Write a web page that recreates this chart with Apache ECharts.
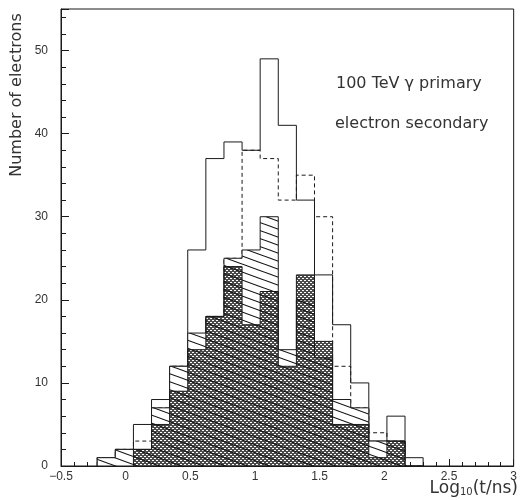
<!DOCTYPE html>
<html><head><meta charset="utf-8">
<script src="https://cdn.jsdelivr.net/npm/echarts/dist/echarts.min.js"></script>
<style>html,body{margin:0;padding:0;background:#fff}#c{width:520px;height:500px}</style>
</head><body><div id="c"></div>
<script>
// bin edges in log10(t/ns)
const binEdges = [-0.22,-0.08,0.06,0.20,0.34,0.48,0.62,0.76,0.90,1.04,1.18,1.32,1.46,1.60,1.74,1.88,2.02,2.16,2.30];
// solid outline histogram
const solidCounts   = [1,2,5,8,12,26,37,39,38,49,41,32,23,17,10,3,6,1];
// dashed outline histogram
const dashedCounts  = [1,2,3,7,12,15,18,25,38,37,32,35,30,12,7,4,3,0];
// single-hatched histogram
const hatchedCounts = [1,2,2,7,12,16,18,25,26,30,14,20,13,8,7,3,3,0];
// cross-hatched histogram
const crossCounts   = [0,0,2,5,9,14,18,24,17,21,12,23,15,5,5,1,3,0];
const xTickLabels = ['\u22120.5','0','0.5','1','1.5','2','2.5','3'];
const xTickValues = [-0.5,0,0.5,1,1.5,2,2.5,3];
const yTickValues = [0,10,20,30,40,50];

function steps(vals){
  const d=[[binEdges[0],0]];
  vals.forEach((v,i)=>d.push([binEdges[i],v]));
  d.push([binEdges[vals.length],vals[vals.length-1]]);
  d.push([binEdges[vals.length],0]);
  return d;
}
// patterns
function diagPattern(){
  const c=document.createElement('canvas'); c.width=22; c.height=8;
  const g=c.getContext('2d'); g.strokeStyle='#111'; g.lineWidth=1.1;
  g.beginPath(); g.moveTo(-22,-8); g.lineTo(44,16); g.moveTo(-22,0); g.lineTo(22,16); g.moveTo(0,-8); g.lineTo(44,8); g.stroke();
  return c;
}
function crossPattern(){
  const c=document.createElement('canvas'); c.width=4; c.height=4;
  const g=c.getContext('2d'); g.fillStyle='#4a4a4a'; g.fillRect(0,0,4,4);
  g.fillStyle='#fff';
  [[0,0],[1,0],[2,2],[3,2]].forEach(p=>g.fillRect(p[0],p[1],1,1));
  return c;
}
const lineCol='#1a1a1a';
const chart=echarts.init(document.getElementById('c'),null,{renderer:'canvas'});
chart.setOption({
  animation:false,
  backgroundColor:'#fff',
  grid:{left:61,right:1,top:9,bottom:34,show:true,borderColor:lineCol,borderWidth:1,backgroundColor:'transparent'},
  xAxis:{type:'value',min:-0.5,max:3,interval:0.5,
    axisLine:{show:true,onZero:false,lineStyle:{color:lineCol,width:1}},
    axisTick:{show:true,inside:true,length:7,lineStyle:{color:lineCol}},
    minorTick:{show:true,splitNumber:5,length:4,lineStyle:{color:lineCol}},
    splitLine:{show:false},
    axisLabel:{margin:5,fontFamily:'Liberation Sans',fontSize:12,color:'#333',
      formatter:v=>{const i=xTickValues.findIndex(t=>Math.abs(t-v)<1e-9);return i>=0?xTickLabels[i]:'';}}},
  yAxis:{type:'value',min:0,max:55,interval:10,
    axisLine:{show:true,onZero:false,lineStyle:{color:lineCol,width:1}},
    axisTick:{show:true,inside:true,length:8,lineStyle:{color:lineCol}},
    minorTick:{show:true,splitNumber:5,length:5,lineStyle:{color:lineCol}},
    splitLine:{show:false},
    axisLabel:{margin:13,fontFamily:'Liberation Sans',fontSize:12,color:'#333',
      formatter:v=>yTickValues.indexOf(v)>=0?String(v):''}},
  series:[
    {type:'line',step:'end',symbol:'none',z:2,data:steps(solidCounts),lineStyle:{color:lineCol,width:1}},
    {type:'line',step:'end',symbol:'none',z:2,data:steps(dashedCounts),lineStyle:{color:lineCol,width:1,type:[4,3]}},
    {type:'line',step:'end',symbol:'none',z:3,data:steps(hatchedCounts),lineStyle:{width:0,opacity:0},areaStyle:{color:'#fff',opacity:1}},
    {type:'line',step:'end',symbol:'none',z:4,data:steps(crossCounts),lineStyle:{color:lineCol,width:1},areaStyle:{color:{image:crossPattern(),repeat:'repeat'},opacity:1}},
    {type:'line',step:'end',symbol:'none',z:5,data:steps(hatchedCounts),lineStyle:{color:lineCol,width:1},areaStyle:{color:{image:diagPattern(),repeat:'repeat'},opacity:1}}
  ],
  graphic:[
    {type:'text',left:336,top:76,z:10,style:{text:'100 TeV \u03b3 primary',font:'16px "DejaVu Sans"',fill:'#333'}},
    {type:'text',left:335,top:116,z:10,style:{text:'electron secondary',font:'16px "DejaVu Sans"',fill:'#333'}},
    {type:'text',x:17,y:95,rotation:Math.PI/2,z:10,style:{text:'Number of electrons',font:'16px "DejaVu Sans"',fill:'#333',align:'center',verticalAlign:'middle'}},
    {type:'text',right:2,top:480,z:10,style:{text:'Log{sub|10}(t/ns)',font:'17px "DejaVu Sans"',fill:'#333',
      rich:{sub:{fontSize:10,lineHeight:12,verticalAlign:'bottom',fontFamily:'DejaVu Sans',fill:'#333'},b:{}}}}
  ]
});
</script></body></html>
